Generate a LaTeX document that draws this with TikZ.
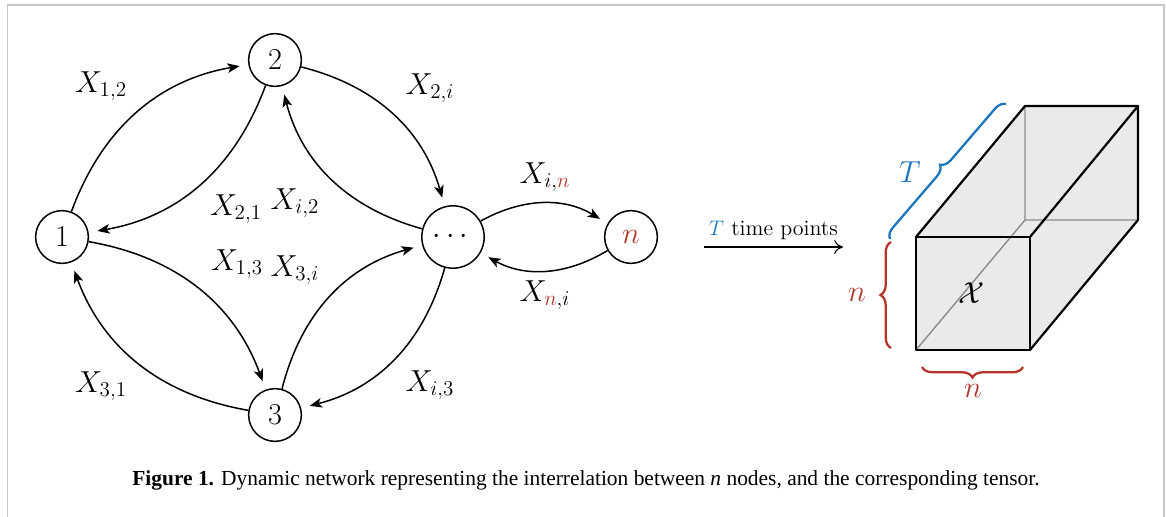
\documentclass[tikz,border=0pt]{standalone}
\usepackage{amsmath,amssymb}
\usepackage{fontspec}
\newfontfamily\capfont{Liberation Serif}
\usepackage{tikz}
\usetikzlibrary{arrows.meta,positioning,decorations.pathreplacing}
\definecolor{nred}{HTML}{B5352B}
\definecolor{tblue}{HTML}{1C75BC}
\definecolor{tfill}{HTML}{E9EAEC}

\begin{document}
\begin{tikzpicture}[x=0.02cm,y=0.02cm,>={Stealth[length=7pt,width=5.5pt,inset=1.8pt]},
n/.style={draw,circle,line width=0.85pt,inner sep=0pt,minimum size=30pt},
e/.style={->,line width=0.85pt,shorten >=5pt,bend left=30},
br/.style={decorate,decoration={brace,amplitude=6pt},line width=1.3pt},
edg/.style={line width=1.25pt,line join=round,line cap=round},
every node/.append style={font=\fontsize{17}{20}\selectfont}]
\useasboundingbox (0,0) rectangle (1167,-517);
\draw[black!22,line width=1.1pt] (7.5,-520) -- (7.5,-5) -- (1164,-5) -- (1164,-520);
\node[n] (1) at (62,-237) {$1$}; \node[n] (2) at (275,-60) {$2$}; \node[n] (3) at (275,-415) {$3$};
\node[n,minimum size=35.5pt] (i) at (453,-237) {$\cdots$}; \node[n] (nn) at (631,-237) {$\color{nred}n$};
\draw[e] (1) to (2); \draw[e] (2) to (1);
\draw[e] (2) to (i); \draw[e] (i) to (2);
\draw[e] (i) to (3); \draw[e] (3) to (i);
\draw[e] (3) to (1); \draw[e] (1) to (3);
\draw[e] (i) to (nn); \draw[e] (nn) to (i);
\node (x12) at (101,-86) {$X_{1,2}$}; \node (x2i) at (430,-88) {$X_{2,i}$};
\node (x21) at (236,-209) {$X_{2,1}$}; \node (xi2) at (295,-203) {$X_{i,2}$};
\node (x13) at (237,-264) {$X_{1,3}$}; \node (x3i) at (295,-270) {$X_{3,i}$};
\node (x31) at (101,-386) {$X_{3,1}$}; \node (xi3) at (430,-385) {$X_{i,3}$};
\node (xin) at (545,-177) {$X_{i,\textcolor{nred}{n}}$}; \node (xni) at (545,-295) {$X_{\textcolor{nred}{n},i}$};
\coordinate (ta) at (704,-247); \coordinate (tb) at (843,-247);
\draw[line width=0.6pt,-{Computer Modern Rightarrow[length=5pt,width=8pt]}] (ta) -- node[above=0.5pt,font=\fontsize{12.5}{15}\selectfont] (tp) {$\color{tblue}T$ time points} (tb);
\coordinate (ftl) at (916,-237); \coordinate (ftr) at (1030,-237); \coordinate (fbr) at (1030,-350); \coordinate (fbl) at (916,-350);
\coordinate (btl) at (1025,-106); \coordinate (btr) at (1138,-106); \coordinate (bbr) at (1138,-220); \coordinate (bbl) at (1025,-220);
\fill[tfill] (fbl) -- (ftl) -- (btl) -- (btr) -- (bbr) -- (fbr) -- cycle;
\draw[edg,black!45,line width=0.8pt] (fbl) -- (bbl) -- (btl) (bbl) -- (bbr);
\draw[edg] (ftl) rectangle (fbr); \draw[edg] (ftl) -- (btl) -- (btr) -- (ftr) (btr) -- (bbr) -- (fbr);
\node (ten) at (972,-293) {$\mathcal{X}$};
\draw[br,tblue] (890,-239) -- (1006,-104); \node[tblue] (tl) at (910,-172) {$T$};
\draw[br,nred] (891,-348) -- (891,-242); \node[nred] (nl) at (857,-295) {$n$};
\draw[br,nred] (1023,-367) -- (922,-367); \node[nred] (nb) at (973,-391) {$n$};
\node[font={\capfont\fontsize{12.2}{14}\selectfont}] (cap) at (586,-480) {\textbf{Figure 1.} Dynamic network representing the interrelation between \textit{n} nodes, and the corresponding tensor.};
\end{tikzpicture}
\end{document}
